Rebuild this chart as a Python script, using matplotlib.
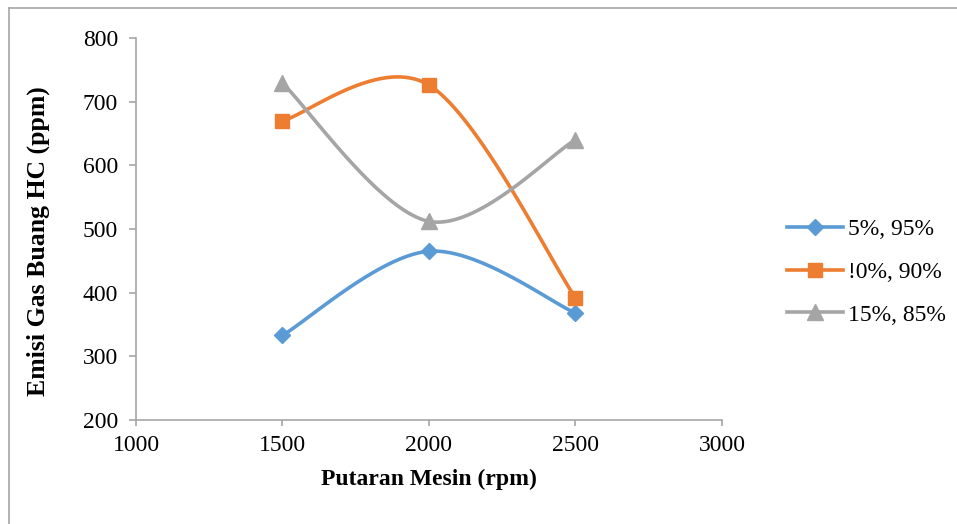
import matplotlib

matplotlib.use("Agg")
import matplotlib.pyplot as plt
import numpy as np
from matplotlib.lines import Line2D

rpm = [1500, 2000, 2500]
series_labels = ["5%, 95%", "!0%, 90%", "15%, 85%"]
hc_5 = [333, 465, 368]
hc_10 = [670, 726, 392]
hc_15 = [729, 512, 640]

x_ticks = [1000, 1500, 2000, 2500, 3000]
y_ticks = [200, 300, 400, 500, 600, 700, 800]


def smooth(xs, ys, n=60):
    # cubic bezier through the points, control points from neighbours (spreadsheet-style smoothing)
    pts = np.column_stack([xs, ys]).astype(float)
    padded = np.vstack([pts[0], pts, pts[-1]])
    out = []
    t = np.linspace(0, 1, n)[:, None]
    for i in range(len(pts) - 1):
        p0, p1, p2, p3 = padded[i], padded[i + 1], padded[i + 2], padded[i + 3]
        c1 = p1 + (p2 - p0) / 6.0
        c2 = p2 - (p3 - p1) / 6.0
        seg = ((1 - t) ** 3) * p1 + 3 * ((1 - t) ** 2) * t * c1 + 3 * (1 - t) * t**2 * c2 + t**3 * p2
        out.append(seg if i == 0 else seg[1:])
    seg = np.vstack(out)
    return seg[:, 0], seg[:, 1]


plt.rcParams["font.family"] = ["Liberation Serif", "DejaVu Serif"]

fig = plt.figure(figsize=(9.57, 5.24), dpi=100)
fig.patch.set_facecolor("white")
ax = fig.add_axes([0.1421, 0.1985, 0.6123, 0.7290])

styles = [
    (hc_5, "#5b9bd5", "D", 8),
    (hc_10, "#ed7d31", "s", 10),
    (hc_15, "#a5a5a5", "^", 11),
]
handles = []
for (vals, color, marker, ms), label in zip(styles, series_labels):
    sx, sy = smooth(rpm, vals)
    ax.plot(sx, sy, color=color, linewidth=2.6, solid_capstyle="round", zorder=2)
    ax.plot(rpm, vals, linestyle="none", marker=marker, markersize=ms,
            color=color, markeredgecolor=color, zorder=3)
    handles.append(Line2D([0], [0], color=color, linewidth=2.6, marker=marker,
                          markersize=ms, markeredgecolor=color, label=label))

ax.set_xlim(1000, 3000)
ax.set_ylim(200, 800)
ax.set_xticks(x_ticks)
ax.set_yticks(y_ticks)
ax.tick_params(axis="both", labelsize=17, direction="out", color="#a6a6a6",
               width=1.2, labelcolor="black")
ax.tick_params(axis="x", length=4, pad=7)
ax.tick_params(axis="y", length=5, pad=8)
for side in ("top", "right"):
    ax.spines[side].set_visible(False)
for side in ("left", "bottom"):
    ax.spines[side].set_color("#a6a6a6")
    ax.spines[side].set_linewidth(1.2)

ax.set_xlabel("Putaran Mesin (rpm)", fontsize=17, fontweight="bold", labelpad=9)
ax.set_ylabel("Emisi Gas Buang HC (ppm)", fontsize=18.5, fontweight="bold",
              va="center", ha="center")
ax.yaxis.set_label_coords(-0.167, 0.469)

fig.legend(handles=handles, loc="upper left", bbox_to_anchor=(0.822, 0.583),
           frameon=False, fontsize=17, handlelength=2.4, labelspacing=0.9,
           handletextpad=0.2, borderaxespad=0, borderpad=0)

# outer chart frame
fig.add_artist(Line2D([9 / 957, 9 / 957], [0, 1 - 8 / 524], color="#a6a6a6",
                      linewidth=1.2, transform=fig.transFigure))
fig.add_artist(Line2D([9 / 957, 1], [1 - 8 / 524, 1 - 8 / 524], color="#a6a6a6",
                      linewidth=1.2, transform=fig.transFigure))

fig.savefig("out.png", dpi=100, facecolor="white")
